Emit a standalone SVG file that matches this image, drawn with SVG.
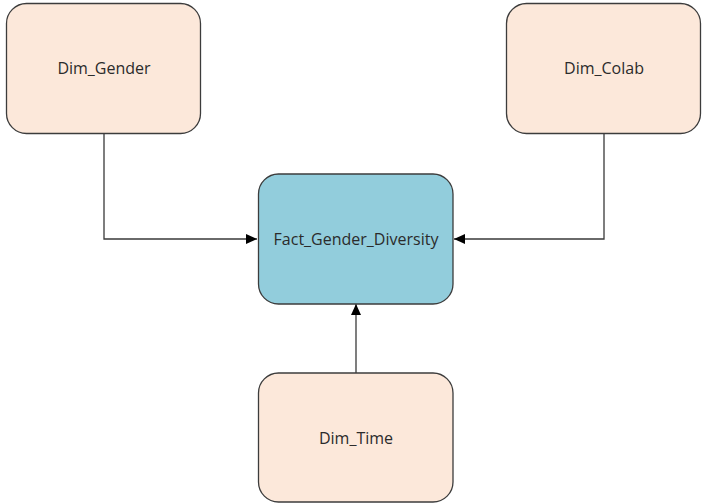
<svg xmlns="http://www.w3.org/2000/svg" width="705" height="504" viewBox="0 0 705 504">
<style>
.node rect{stroke:#3c3c3c;stroke-width:1.3}
.dim rect{fill:#fce8da}
.fact rect{fill:#92cddc}
.node text{font-family:"Open Sans","Liberation Sans",sans-serif;font-size:16px;fill:#2b2b2b;text-anchor:middle;dominant-baseline:central}
.edge{fill:none;stroke:#3a3a3a;stroke-width:1.3}
</style>
<defs>
<marker id="arr" viewBox="0 0 11 10" refX="11" refY="5" markerWidth="11" markerHeight="10" markerUnits="userSpaceOnUse" orient="auto">
<path d="M0,0 L11,5 L0,10 Z" fill="#000"/>
</marker>
</defs>
<rect width="705" height="504" fill="#fff"/>
<g id="connectors">
<path class="edge" d="M104,133 V239 H257" marker-end="url(#arr)"/>
<path class="edge" d="M604,133 V239 H454" marker-end="url(#arr)"/>
<path class="edge" d="M356,373 V304" marker-end="url(#arr)"/>
</g>
<g id="dim_gender" class="node dim">
<rect x="6.5" y="3.5" width="194" height="130" rx="20"/>
<text x="104" y="68">Dim_Gender</text>
</g>
<g id="dim_colab" class="node dim">
<rect x="506.5" y="3.5" width="194" height="130" rx="20"/>
<text x="604" y="68">Dim_Colab</text>
</g>
<g id="fact_gender_diversity" class="node fact">
<rect x="258.5" y="174" width="194.5" height="130" rx="20"/>
<text x="356" y="239">Fact_Gender_Diversity</text>
</g>
<g id="dim_time" class="node dim">
<rect x="258.5" y="373" width="194.5" height="129" rx="20"/>
<text x="356" y="438">Dim_Time</text>
</g>
</svg>
